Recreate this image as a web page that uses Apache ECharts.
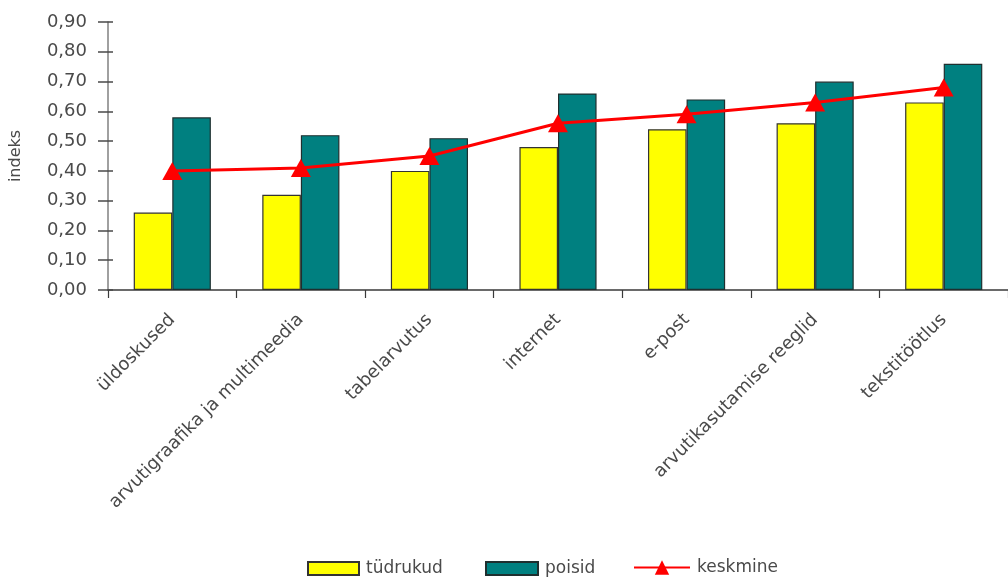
<!DOCTYPE html>
<html>
<head>
<meta charset="utf-8">
<script src="https://cdn.jsdelivr.net/npm/echarts@6/dist/echarts.min.js"></script>
<style>
  html, body { margin: 0; padding: 0; background: #ffffff; }
  #chart { width: 1008px; height: 578px; }
</style>
</head>
<body>
<div id="chart"></div>
<script>
// Skill categories along the x axis
var categories = [
  'üldoskused',
  'arvutigraafika ja multimeedia',
  'tabelarvutus',
  'internet',
  'e-post',
  'arvutikasutamise reeglid',
  'tekstitöötlus'
];

// Index values per group
var tudrukud = [0.26, 0.32, 0.40, 0.48, 0.54, 0.56, 0.63];
var poisid   = [0.58, 0.52, 0.51, 0.66, 0.64, 0.70, 0.76];
var keskmine = [0.40, 0.41, 0.45, 0.56, 0.59, 0.63, 0.68];

// Y axis range and step
var yMin = 0, yMax = 0.9, yStep = 0.1;

var FONT = 'DejaVu Sans';
var TEXT = '#4a4a4a';

function commaFmt(v) { return v.toFixed(2).replace('.', ','); }

var chart = echarts.init(document.getElementById('chart'), null, { renderer: 'canvas' });

var legendText = { color: TEXT, fontFamily: FONT, fontSize: 17, padding: [0, 0, 0, 2] };

chart.setOption({
  animation: false,
  backgroundColor: '#ffffff',
  grid: { left: 108, top: 22, right: -14, bottom: 288, containLabel: false },
  legend: [
    { data: [{ name: 'tüdrukud', icon: 'rect' }], left: 302, top: 555, itemWidth: 51, itemHeight: 13, textStyle: legendText },
    { data: [{ name: 'poisid', icon: 'rect' }],   left: 480, top: 555, itemWidth: 52, itemHeight: 13, textStyle: legendText },
    { data: ['keskmine'], left: 628, top: 554, itemWidth: 56, itemHeight: 18, textStyle: legendText }
  ],
  xAxis: {
    type: 'category',
    data: categories,
    boundaryGap: true,
    axisLine: { lineStyle: { color: '#3a3a3a', width: 1.5 } },
    axisTick: { show: true, alignWithLabel: false, length: 8, lineStyle: { color: '#3a3a3a', width: 1.2 } },
    axisLabel: {
      rotate: 45,
      interval: 0,
      margin: 27,
      color: TEXT,
      fontFamily: FONT,
      fontSize: 18
    }
  },
  yAxis: [
    {
      type: 'value',
      min: yMin, max: yMax, interval: yStep,
      name: 'indeks',
      nameLocation: 'middle',
      nameGap: 84,
      nameRotate: 90,
      nameTextStyle: { color: TEXT, fontFamily: FONT, fontSize: 16 },
      axisLine: { show: true, lineStyle: { color: '#808080', width: 1.5 } },
      axisTick: { show: true, length: 10, lineStyle: { color: '#4a4a4a', width: 1.5 } },
      axisLabel: { color: TEXT, fontFamily: FONT, fontSize: 18, margin: 21, formatter: commaFmt },
      splitLine: { show: false }
    },
    {
      type: 'value',
      position: 'left',
      min: yMin, max: yMax, interval: yStep,
      axisLine: { show: false },
      axisTick: { show: true, inside: true, length: 5, lineStyle: { color: '#4a4a4a', width: 1.5 } },
      axisLabel: { show: false },
      splitLine: { show: false }
    }
  ],
  series: [
    {
      name: 'tüdrukud',
      type: 'bar',
      data: tudrukud,
      barGap: '0%',
      barCategoryGap: '40%',
      itemStyle: { color: '#ffff00', borderColor: '#333333', borderWidth: 1.2 }
    },
    {
      name: 'poisid',
      type: 'bar',
      data: poisid,
      barGap: '0%',
      barCategoryGap: '40%',
      itemStyle: { color: '#008080', borderColor: '#1f2f2f', borderWidth: 1.2 }
    },
    {
      name: 'keskmine',
      type: 'line',
      data: keskmine,
      symbol: 'triangle',
      symbolSize: [20, 18],
      z: 5,
      lineStyle: { color: '#ff0000', width: 3 },
      itemStyle: { color: '#ff0000' }
    }
  ]
});
</script>
</body>
</html>
